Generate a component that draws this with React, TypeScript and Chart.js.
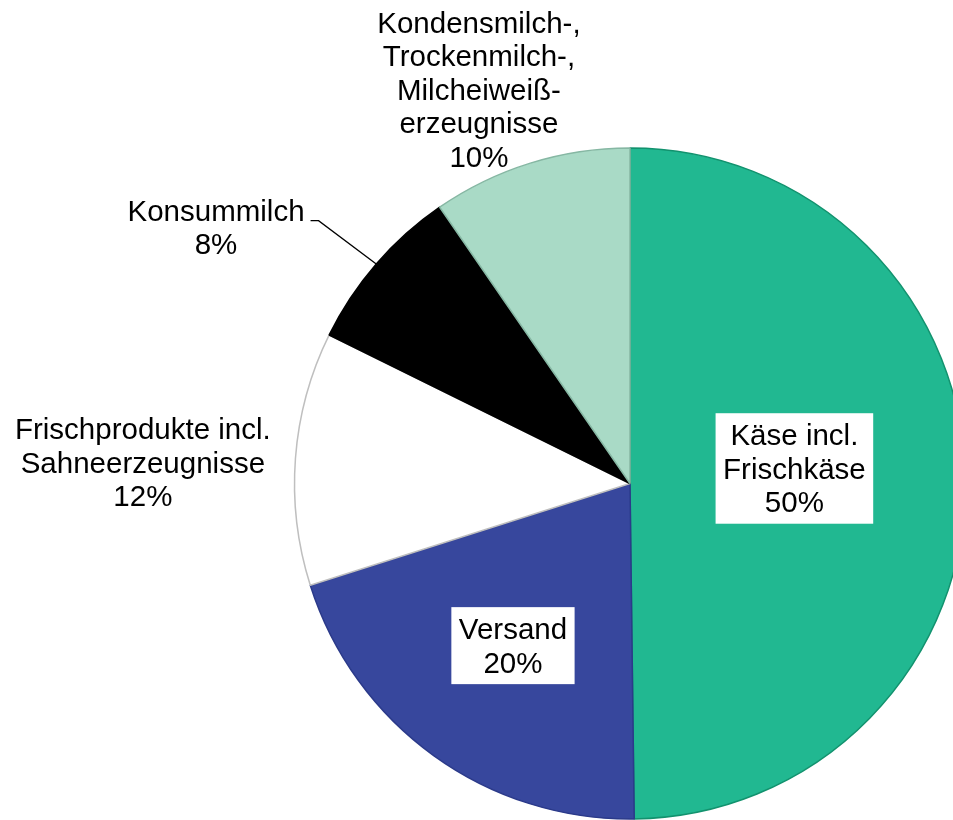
import React, { useEffect, useRef } from "react";
import { Chart, registerables } from "chart.js";

Chart.register(...registerables);

// ---- data ----
const categories = [
  "Käse incl.\nFrischkäse",
  "Versand",
  "Frischprodukte incl.\nSahneerzeugnisse",
  "Konsummilch",
  "Kondensmilch-,\nTrockenmilch-,\nMilcheiweiß-\nerzeugnisse",
];
const shares = [49.8, 20.3, 12.2, 8.1, 9.6];

// ---- styles ----
const fillColors = ["#21B891", "#37479D", "#FFFFFF", "#000000", "#A9DAC6"];
const edgeColors = ["#12926E", "#2B3A8A", "#BFBFBF", "#000000", "#86B7A3"];
const FONT = '29.5px "Liberation Sans", Arial, sans-serif';
const LINE_H = 33.5;
const CAP_MID = 10.5;

type Placement =
  | { kind: "inside"; r: number; dx: number; dy: number }
  | { kind: "outside"; dx: number; dy: number }
  | { kind: "leader"; dx: number; dy: number };

const placements: Placement[] = [
  { kind: "inside", r: 0.49, dx: 0, dy: -14 },
  { kind: "inside", r: 0.596, dx: 0, dy: 0 },
  { kind: "outside", dx: -152.6, dy: 3.9 },
  { kind: "leader", dx: -57.7, dy: -43.4 },
  { kind: "outside", dx: -51.4, dy: -73.8 },
];

const labelPlugin = {
  id: "sliceLabels",
  afterDatasetsDraw(chart: any) {
    const ctx: CanvasRenderingContext2D = chart.ctx;
    const meta = chart.getDatasetMeta(0);
    const data = chart.data.datasets[0].data as number[];
    const total = data.reduce((a, b) => a + b, 0);
    ctx.save();
    ctx.font = FONT;
    ctx.textAlign = "center";
    ctx.textBaseline = "alphabetic";
    meta.data.forEach((el: any, i: number) => {
      const { x, y, startAngle, endAngle, outerRadius } = el.getProps(
        ["x", "y", "startAngle", "endAngle", "outerRadius"],
        true
      );
      const mid = (startAngle + endAngle) / 2;
      const cos = Math.cos(mid);
      const sin = Math.sin(mid);
      const lines = [
        ...String(chart.data.labels[i]).split("\n"),
        Math.round((data[i] / total) * 100) + "%",
      ];
      const maxW = Math.max(...lines.map((l) => ctx.measureText(l).width));
      const n = lines.length;
      const p = placements[i];
      const drawBlock = (cx: number, cy: number) => {
        ctx.fillStyle = "#000";
        lines.forEach((l, k) => {
          ctx.fillText(l, cx, cy + (k - (n - 1) / 2) * LINE_H + CAP_MID);
        });
      };
      if (p.kind === "inside") {
        const cx = x + cos * outerRadius * p.r + p.dx;
        const cy = y + sin * outerRadius * p.r + p.dy;
        const padX = 7.5;
        const halfH = (n * LINE_H) / 2 + 5;
        ctx.fillStyle = "#FFFFFF";
        ctx.fillRect(cx - maxW / 2 - padX, cy - halfH, maxW + 2 * padX, 2 * halfH);
        drawBlock(cx, cy);
      } else if (p.kind === "outside") {
        const ex = x + cos * outerRadius;
        const ey = y + sin * outerRadius;
        drawBlock(ex + p.dx, ey + p.dy);
      } else {
        const ex = x + cos * outerRadius;
        const ey = y + sin * outerRadius;
        const bx = ex + p.dx;
        const by = ey + p.dy;
        ctx.strokeStyle = "#000";
        ctx.lineWidth = 1.3;
        ctx.beginPath();
        ctx.moveTo(ex, ey);
        ctx.lineTo(bx, by);
        ctx.lineTo(bx - 8, by);
        ctx.stroke();
        const cx = bx - 8 - 6 - maxW / 2;
        ctx.fillStyle = "#000";
        lines.forEach((l, k) => {
          ctx.fillText(l, cx, by + k * LINE_H);
        });
      }
    });
    ctx.restore();
  },
};

export default function App() {
  const ref = useRef<HTMLCanvasElement | null>(null);
  useEffect(() => {
    if (!ref.current) return;
    const chart = new Chart(ref.current, {
      type: "pie",
      data: {
        labels: categories,
        datasets: [
          {
            data: shares,
            backgroundColor: fillColors,
            borderColor: edgeColors,
            borderWidth: 1.5,
            radius: 335.5,
          } as any,
        ],
      },
      options: {
        responsive: false,
        maintainAspectRatio: false,
        devicePixelRatio: 1,
        animation: false,
        layout: { padding: 0 },
        plugins: {
          legend: { display: false },
          tooltip: { enabled: false },
          title: { display: false },
        },
      },
      plugins: [labelPlugin],
    });
    return () => chart.destroy();
  }, []);
  return (
    <div
      style={{
        position: "fixed",
        left: 0,
        top: 0,
        width: 953,
        height: 820,
        overflow: "hidden",
        background: "#fff",
      }}
    >
      <canvas
        ref={ref}
        width={1260}
        height={967}
        style={{ display: "block", width: 1260, height: 967 }}
      />
    </div>
  );
}
